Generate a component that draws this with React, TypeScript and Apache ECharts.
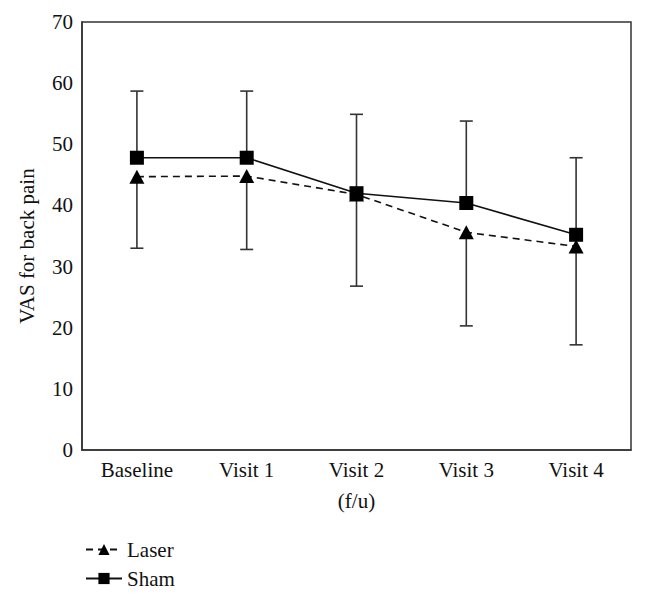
import React, { useEffect, useRef } from "react";
import * as echarts from "echarts";

const categories = ["Baseline", "Visit 1", "Visit 2", "Visit 3", "Visit 4"];
const shamMean = [47.8, 47.8, 42.0, 40.4, 35.2];
const shamUpper = [58.7, 58.7, 54.9, 53.8, 47.8];
const laserMean = [44.7, 44.8, 41.8, 35.6, 33.3];
const laserLower = [33.0, 32.8, 26.8, 20.3, 17.2];
const yTicks = [0, 10, 20, 30, 40, 50, 60, 70];

const FONT = "Liberation Serif";
const FS = 21;

export default function App() {
  const ref = useRef<HTMLDivElement>(null);
  useEffect(() => {
    if (!ref.current) return;
    const chart = echarts.init(ref.current, null, { renderer: "svg" });

    const errData = (means: number[], bounds: number[]) =>
      means.map((m, i) => [i, m, bounds[i]]);

    const renderErr = (params: any, api: any) => {
      const i = api.value(0);
      const p0 = api.coord([i, api.value(1)]);
      const p1 = api.coord([i, api.value(2)]);
      const hw = 6.5;
      const style = { stroke: "#333", lineWidth: 1.6 };
      return {
        type: "group",
        children: [
          { type: "line", shape: { x1: p0[0], y1: p0[1], x2: p1[0], y2: p1[1] }, style },
          { type: "line", shape: { x1: p1[0] - hw, y1: p1[1], x2: p1[0] + hw, y2: p1[1] }, style },
        ],
      };
    };

    chart.setOption({
      animation: false,
      backgroundColor: "#fff",
      textStyle: { fontFamily: FONT },
      grid: {
        left: 82,
        right: 15,
        top: 22,
        bottom: 149,
        show: true,
        borderColor: "#333",
        borderWidth: 1.5,
      },
      legend: {
        orient: "vertical",
        left: 80,
        top: 534,
        itemWidth: 36,
        itemHeight: 14,
        itemGap: 8,
        data: ["Laser", "Sham"],
        textStyle: { fontFamily: FONT, fontSize: FS, color: "#111" },
      },
      xAxis: {
        type: "category",
        data: categories,
        boundaryGap: true,
        axisLine: { lineStyle: { color: "#333", width: 1.5 } },
        axisTick: { show: false },
        axisLabel: { fontFamily: FONT, fontSize: FS, color: "#111", margin: 9 },
        name: "(f/u)",
        nameLocation: "middle",
        nameGap: 40,
        nameTextStyle: { fontFamily: FONT, fontSize: FS, color: "#111", verticalAlign: "top" },
      },
      yAxis: {
        type: "value",
        min: yTicks[0],
        max: yTicks[yTicks.length - 1],
        interval: 10,
        splitLine: { show: false },
        axisLine: { show: true, lineStyle: { color: "#333", width: 1.5 } },
        axisTick: { show: false },
        axisLabel: { fontFamily: FONT, fontSize: FS, color: "#111", margin: 9 },
      },
      graphic: [
        {
          type: "text",
          x: 27,
          y: 246,
          rotation: Math.PI / 2,
          style: {
            text: "VAS for back pain",
            font: `${FS}px ${FONT}`,
            fill: "#111",
            align: "center",
            verticalAlign: "middle",
          },
        },
      ],
      series: [
        {
          type: "custom",
          name: "shamErr",
          renderItem: renderErr,
          data: errData(shamMean, shamUpper),
          z: 1,
          silent: true,
          encode: { x: 0, y: [1, 2] },
        },
        {
          type: "custom",
          name: "laserErr",
          renderItem: renderErr,
          data: errData(laserMean, laserLower),
          z: 1,
          silent: true,
          encode: { x: 0, y: [1, 2] },
        },
        {
          type: "line",
          name: "Laser",
          data: laserMean,
          symbol: "triangle",
          symbolSize: [15, 14],
          showAllSymbol: true,
          z: 3,
          lineStyle: { color: "#111", width: 1.6, type: [7, 5] },
          itemStyle: { color: "#000" },
        },
        {
          type: "line",
          name: "Sham",
          data: shamMean,
          symbol: "rect",
          symbolSize: 14,
          showAllSymbol: true,
          z: 4,
          lineStyle: { color: "#111", width: 1.6, type: "solid" },
          itemStyle: { color: "#000" },
        },
      ],
    });
    return () => chart.dispose();
  }, []);
  return <div ref={ref} style={{ width: 646, height: 599, position: "absolute", left: 0, top: 0 }} />;
}
